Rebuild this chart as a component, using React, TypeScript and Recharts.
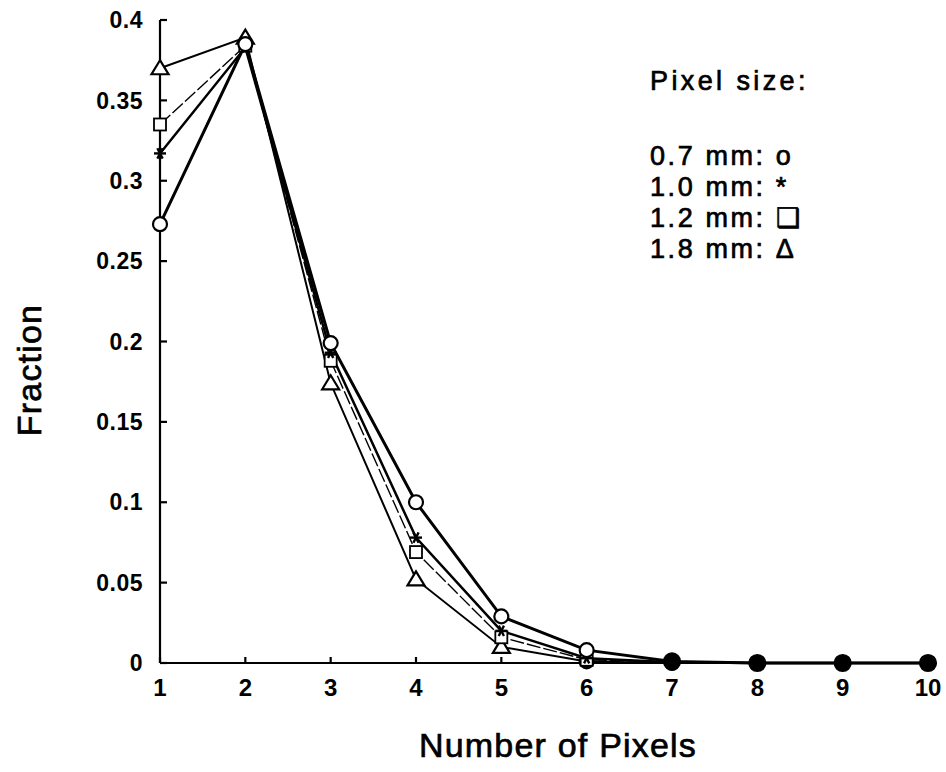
import React from "react"
import { LineChart, Line, XAxis, YAxis } from "recharts"

// Fraction of events vs. cluster size, one series per pixel pitch
const pixelCounts = [1, 2, 3, 4, 5, 6, 7, 8, 9, 10]
const size07 = [0.273, 0.385, 0.199, 0.1, 0.029, 0.008, 0.001, 0, 0, 0]
const size10 = [0.317, 0.383, 0.193, 0.078, 0.02, 0.003, 0.0005, 0, 0, 0]
const size12 = [0.335, 0.384, 0.188, 0.069, 0.016, 0.002, 0.0005, 0, 0, 0]
const size18 = [0.37, 0.389, 0.174, 0.052, 0.01, 0.001, 0, 0, 0, 0]

const yTicks = [0, 0.05, 0.1, 0.15, 0.2, 0.25, 0.3, 0.35, 0.4]
const legendTitle = "Pixel size:"
const legendLines = ["0.7 mm: o", "1.0 mm: *", "1.2 mm: \u2751", "1.8 mm: \u0394"]

const data = pixelCounts.map((n, i) => ({
  n,
  s07: size07[i],
  s10: size10[i],
  s12: size12[i],
  s18: size18[i],
}))

const FONT = "'Liberation Sans', Arial, Helvetica, sans-serif"
const INK = "#000"

// markers merge into a solid dot once the fraction is essentially zero
const isMerged = (v: number) => v < 0.0015

function CircleDot(props: any) {
  const { cx, cy, value } = props
  if (cx == null || cy == null) return null
  const filled = isMerged(value)
  return <circle cx={cx} cy={cy} r={filled ? 8 : 7} fill={filled ? INK : "#fff"} stroke={INK} strokeWidth={2.2} />
}

function StarDot(props: any) {
  const { cx, cy, value } = props
  if (cx == null || cy == null) return null
  const r = 6
  const d = r * 0.87
  return (
    <g stroke={INK} strokeWidth={2.4}>
      <line x1={cx - r} y1={cy} x2={cx + r} y2={cy} />
      <line x1={cx - d / 2} y1={cy - d} x2={cx + d / 2} y2={cy + d} />
      <line x1={cx + d / 2} y1={cy - d} x2={cx - d / 2} y2={cy + d} />
      {isMerged(value) && <circle cx={cx} cy={cy} r={8} fill={INK} stroke="none" />}
    </g>
  )
}

function SquareDot(props: any) {
  const { cx, cy, value } = props
  if (cx == null || cy == null) return null
  if (isMerged(value)) return <circle cx={cx} cy={cy} r={8} fill={INK} />
  return <rect x={cx - 6} y={cy - 6} width={12} height={12} fill="#fff" stroke={INK} strokeWidth={1.8} />
}

function TriangleDot(props: any) {
  const { cx, cy, value } = props
  if (cx == null || cy == null) return null
  if (isMerged(value)) return <circle cx={cx} cy={cy} r={8} fill={INK} />
  const pts = `${cx},${cy - 8} ${cx - 8.5},${cy + 6} ${cx + 8.5},${cy + 6}`
  return <polygon points={pts} fill="#fff" stroke={INK} strokeWidth={2.2} strokeLinejoin="miter" />
}

// heavier text, like a photocopied figure
const heavy = { stroke: INK, strokeWidth: 0.7 }

export default function App() {
  return (
    <div style={{ position: "absolute", left: 0, top: 0, width: 946, height: 772, background: "#fff" }}>
      <LineChart width={946} height={772} data={data} margin={{ top: 20, right: 18, bottom: 0, left: 0 }}>
        <XAxis
          dataKey="n"
          type="number"
          domain={[1, 10]}
          ticks={pixelCounts}
          height={109}
          stroke={INK}
          strokeWidth={2.2}
          tickSize={-6}
          tickMargin={22}
          tick={{ fill: INK, fontSize: 24, fontWeight: 700, fontFamily: FONT }}
        />
        <YAxis
          type="number"
          domain={[0, 0.4]}
          ticks={yTicks}
          width={160}
          stroke={INK}
          strokeWidth={2.2}
          tickSize={-7}
          tickMargin={24}
          tickFormatter={(v) => String(v)}
          tick={{ fill: INK, fontSize: 23, fontWeight: 700, fontFamily: FONT, letterSpacing: 0.5 }}
        />
        <Line dataKey="s18" stroke={INK} strokeWidth={2} dot={<TriangleDot />} isAnimationActive={false} />
        <Line dataKey="s12" stroke={INK} strokeWidth={1.4} strokeDasharray="14 3" dot={<SquareDot />} isAnimationActive={false} />
        <Line dataKey="s10" stroke={INK} strokeWidth={2.5} dot={<StarDot />} isAnimationActive={false} />
        <Line dataKey="s07" stroke={INK} strokeWidth={3} dot={<CircleDot />} isAnimationActive={false} />
      </LineChart>

      <svg width={946} height={772} style={{ position: "absolute", left: 0, top: 0, pointerEvents: "none" }}>
        <g fontFamily={FONT} fill={INK} {...heavy}>
          <text x={650} y={90} fontSize={27} letterSpacing={3.4}>
            {legendTitle}
          </text>
          {legendLines.map((t, i) => (
            <text key={t} x={650} y={165 + i * 31} fontSize={27} letterSpacing={2.6}>
              {t}
            </text>
          ))}
          <text x={0} y={0} fontSize={34} letterSpacing={1.2} textAnchor="middle" transform="translate(41 370) rotate(-90)">
            Fraction
          </text>
          <text x={558} y={757} fontSize={34} letterSpacing={1.2} textAnchor="middle">
            Number of Pixels
          </text>
        </g>
      </svg>
    </div>
  )
}
